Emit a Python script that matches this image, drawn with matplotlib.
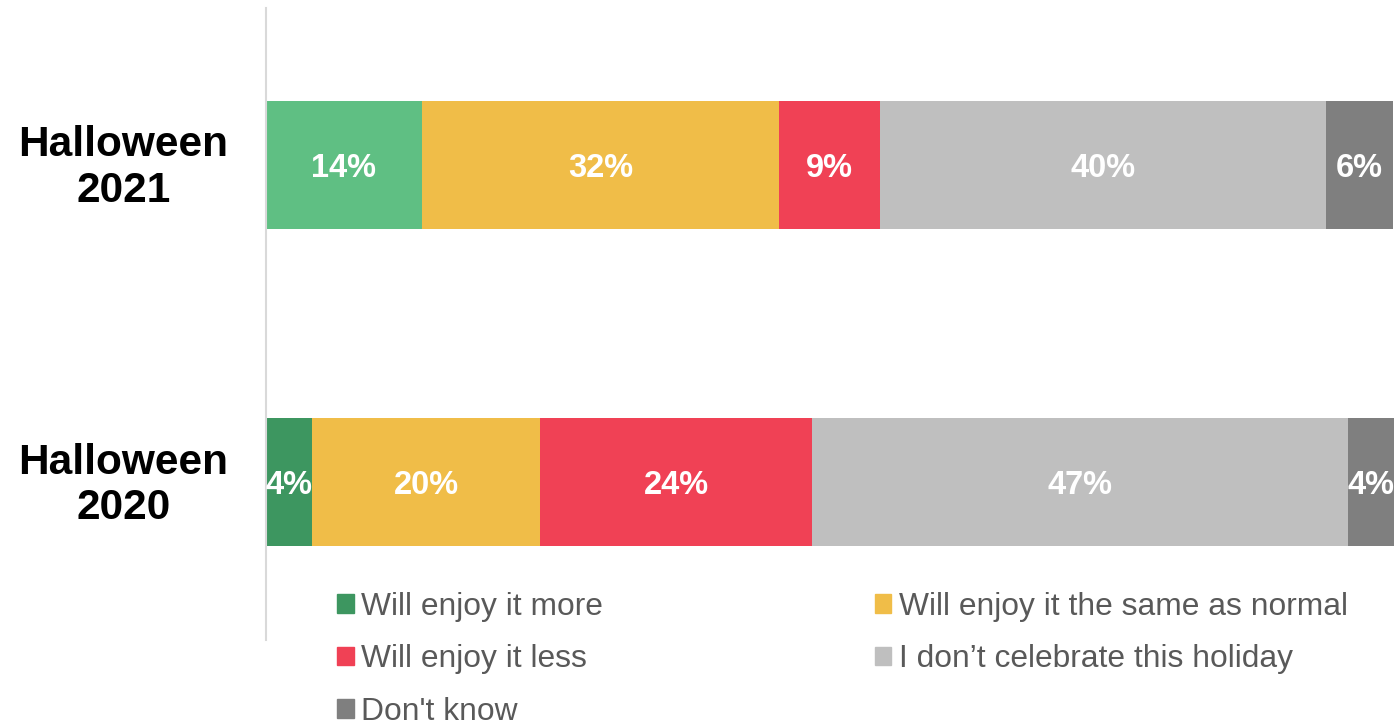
import numpy as np
import matplotlib.pyplot as plt
from matplotlib.patches import Patch
from matplotlib.transforms import ScaledTranslation

plt.rcParams['font.family'] = ['Liberation Sans', 'DejaVu Sans']

years = ["Halloween\n2020", "Halloween\n2021"]
categories = ["Will enjoy it more", "Will enjoy it the same as normal",
              "Will enjoy it less", "I don\u2019t celebrate this holiday", "Don't know"]
# shares per category, [2020, 2021]
more = [4.1, 13.8]
same = [20.2, 31.7]
less = [24.1, 8.9]
no_celebrate = [47.5, 39.6]
dont_know = [4.1, 5.9]
labels_2020 = ["4%", "20%", "24%", "47%", "4%"]
labels_2021 = ["14%", "32%", "9%", "40%", "6%"]

series = [more, same, less, no_celebrate, dont_know]
colors = ["#3d9660", "#f0bd48", "#f04155", "#bfbfbf", "#7f7f7f"]
more_colors = ["#3d9660", "#5fbf83"]

fig = plt.figure(figsize=(13.96, 7.24), dpi=100)
ax = fig.add_axes([266 / 1396, 1 - 640 / 724, 1128 / 1396, 632 / 724])

y = np.arange(len(years))
left = np.zeros(len(years))
for i, vals in enumerate(series):
    c = more_colors if i == 0 else colors[i]
    bars = ax.barh(y, vals, left=left, height=0.404, color=c)
    for j, b in enumerate(bars):
        txt = (labels_2020, labels_2021)[j][i]
        ax.text(b.get_x() + b.get_width() / 2, b.get_y() + b.get_height() / 2, txt,
                ha='center', va='center_baseline', color='white', fontsize=23.5,
                fontweight='bold')
    left += np.array(vals)

ax.set_xlim(0, left.max())
ax.set_ylim(-0.498, 1.495)
ax.set_xticks([])
ax.set_yticks(y)
ax.set_yticklabels(years, fontsize=30.5, fontweight='bold', multialignment='center',
                   linespacing=1.18)
ax.tick_params(axis='y', length=0, pad=27)
# nudge the row labels up a little
for lab in ax.get_yticklabels():
    lab.set_transform(lab.get_transform() + ScaledTranslation(0, 0.04, fig.dpi_scale_trans))
for s in ['top', 'right', 'bottom']:
    ax.spines[s].set_visible(False)
ax.spines['left'].set_color('#d9d9d9')
ax.spines['left'].set_linewidth(1.5)

order = [0, 2, 4, 1, 3]
handles = [Patch(color=colors[k], label=categories[k]) for k in order]
fig.legend(handles=handles, ncol=2, loc='upper left',
           bbox_to_anchor=(337 / 1396, 1 - 592 / 724), frameon=False,
           fontsize=22.9, labelcolor='#595959', handlelength=0.52, handleheight=0.52,
           handletextpad=0.25, columnspacing=8.53, labelspacing=0.7,
           borderpad=0, borderaxespad=0)

fig.savefig("out.png", dpi=100)
